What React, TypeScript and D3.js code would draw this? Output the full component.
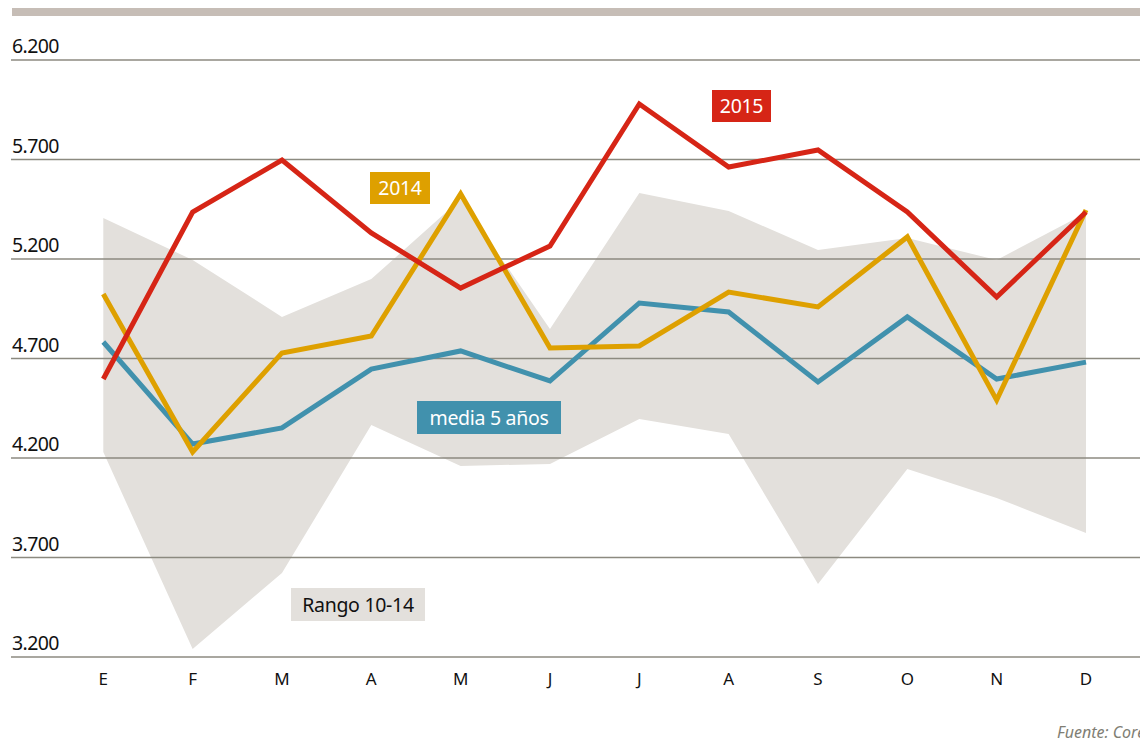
import React from "react";
import * as d3 from "d3";

const months = ["E", "F", "M", "A", "M", "J", "J", "A", "S", "O", "N", "D"];
const yTicks = [3200, 3700, 4200, 4700, 5200, 5700, 6200];
const s2015 = [4597, 5436, 5697, 5331, 5054, 5265, 5979, 5662, 5748, 5436, 5009, 5436];
const s2014 = [5024, 4230, 4728, 4813, 5527, 4753, 4763, 5034, 4959, 5311, 4491, 5446];
const media5 = [4783, 4270, 4351, 4647, 4738, 4587, 4979, 4934, 4582, 4909, 4597, 4682];
const rangoHigh = [5406, 5195, 4909, 5099, 5500, 4848, 5532, 5441, 5245, 5306, 5195, 5431];
const rangoLow = [4230, 3240, 3622, 4366, 4160, 4170, 4396, 4321, 3567, 4145, 3999, 3823];

const W = 1140;
const H = 751;
const FONT = "'Noto Sans', 'DejaVu Sans', sans-serif";

const fmt = (v: number) => d3.format(",")(v).replace(/,/g, ".");

export default function App() {
  const idx = months.map((_, i) => i);
  const x = d3.scalePoint<number>().domain(idx).range([103.3, 1086]).padding(0);
  const y = d3.scaleLinear().domain([3200, 6200]).range([657, 60]);

  const line = d3
    .line<number>()
    .x((_, i) => x(i) as number)
    .y((d) => y(d));

  const area = d3
    .area<number>()
    .x((_, i) => x(i) as number)
    .y0((_, i) => y(rangoLow[i]))
    .y1((_, i) => y(rangoHigh[i]));

  const series = [
    { data: media5, color: "#4191ad" },
    { data: s2014, color: "#dea000" },
    { data: s2015, color: "#d62516" },
  ];

  const labels = [
    { text: "2015", x: 712, y: 90, w: 59, h: 32, fill: "#d62516", color: "#fff" },
    { text: "2014", x: 370, y: 172, w: 60, h: 32, fill: "#dea000", color: "#fff" },
    { text: "media 5 años", x: 417, y: 401, w: 144, h: 33, fill: "#4191ad", color: "#fff" },
    { text: "Rango 10-14", x: 291, y: 588, w: 134, h: 33, fill: "#e3e0dc", color: "#111" },
  ];

  return (
    <svg
      width={W}
      height={H}
      style={{ position: "absolute", left: 0, top: 0, background: "#fff" }}
      fontFamily={FONT}
    >
      <rect x={12} y={8} width={W - 12} height={8} fill="#c6bdb6" />
      <path d={area(idx as any) || ""} fill="#e3e0dc" />
      {yTicks.map((t) => (
        <g key={t}>
          <line x1={11} x2={W} y1={y(t)} y2={y(t)} stroke="#8c8a80" strokeWidth={1.5} />
          <text x={12} y={y(t) - 7} fontSize={19.5} fill="#111" letterSpacing={-0.6}>
            {fmt(t)}
          </text>
        </g>
      ))}
      {series.map((s, k) => (
        <path
          key={k}
          d={line(s.data) || ""}
          fill="none"
          stroke={s.color}
          strokeWidth={5}
          strokeLinejoin="miter"
        />
      ))}
      {months.map((m, i) => (
        <text
          key={i}
          x={x(i) as number}
          y={685}
          textAnchor="middle"
          fontSize={17}
          fill="#111"
        >
          {m}
        </text>
      ))}
      {labels.map((l) => (
        <g key={l.text}>
          <rect x={l.x} y={l.y} width={l.w} height={l.h} fill={l.fill} />
          <text
            x={l.x + l.w / 2}
            y={l.y + l.h / 2 + 7}
            textAnchor="middle"
            fontSize={19.5}
            fill={l.color}
            letterSpacing={-0.3}
          >
            {l.text}
          </text>
        </g>
      ))}
      <text x={1057} y={738} fontSize={16} fontStyle="italic" fill="#807e74">
        Fuente: Cores
      </text>
    </svg>
  );
}
